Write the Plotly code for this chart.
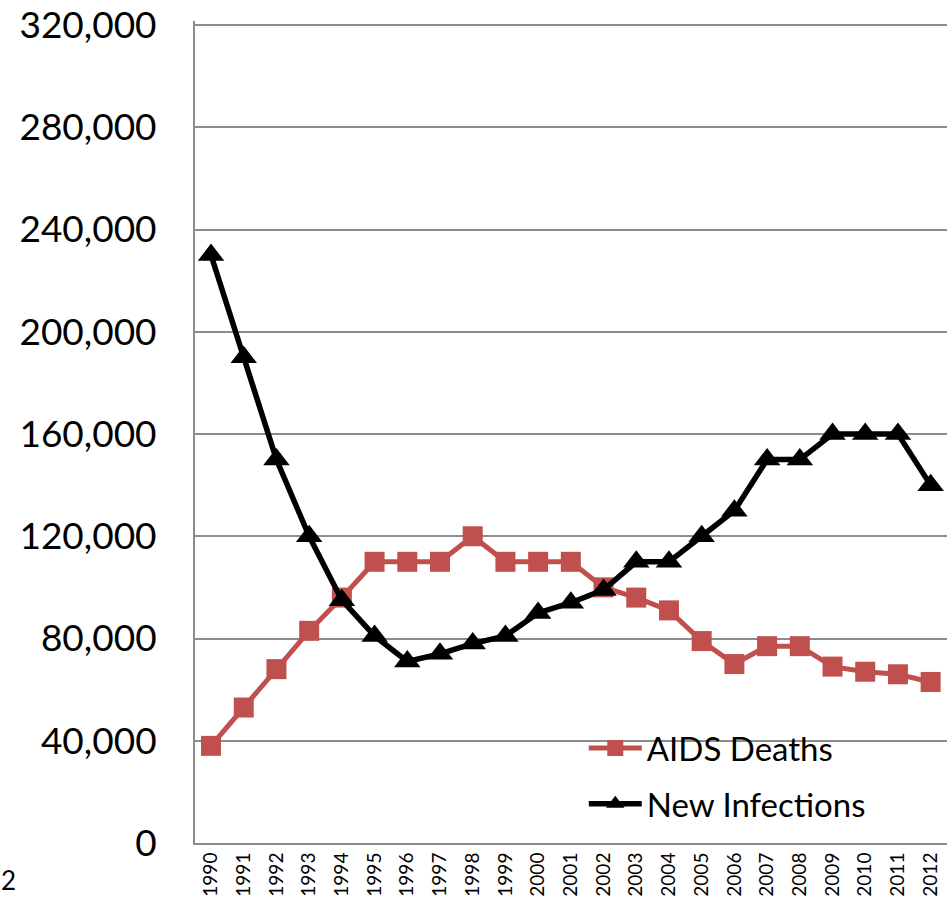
import plotly.graph_objects as go

years = [str(y) for y in range(1990, 2013)]
aids_deaths = [38000, 53000, 68000, 83000, 96000, 110000, 110000, 110000, 120000, 110000,
               110000, 110000, 100000, 96000, 91000, 79000, 70000, 77000, 77000, 69000,
               67000, 66000, 63000]
new_infections = [230000, 190000, 150000, 120000, 95000, 81000, 71000, 74000, 78000, 81000,
                  90000, 94000, 99000, 110000, 110000, 120000, 130000, 150000, 150000, 160000,
                  160000, 160000, 140000]
y_ticks = [0, 40000, 80000, 120000, 160000, 200000, 240000, 280000, 320000]
y_tick_text = ["0", "40,000", "80,000", "120,000", "160,000", "200,000", "240,000", "280,000", "320,000"]

FONT = "Lato"
RED = "#C0504D"

fig = go.Figure()
fig.add_trace(go.Scatter(
    x=years, y=aids_deaths, name="AIDS Deaths", mode="lines+markers",
    line=dict(color=RED, width=5), marker=dict(symbol="square", size=20, color=RED),
    legendgroup="a", cliponaxis=False))
fig.add_trace(go.Scatter(
    x=years, y=new_infections, name="New Infections", mode="lines+markers",
    line=dict(color="black", width=5.5), marker=dict(symbol="triangle-up", size=23, color="black"),
    legendgroup="b", cliponaxis=False))

plot_h = 907 - 64 - 21
fig.update_layout(
    width=948, height=907,
    margin=dict(l=195, r=1, t=21, b=64),
    paper_bgcolor="white", plot_bgcolor="white",
    font=dict(family=FONT, color="black"),
    showlegend=True,
    legend=dict(x=0.517, y=123 / plot_h, xanchor="left", yanchor="top",
                font=dict(size=33, family=FONT, color="black"),
                bgcolor="rgba(0,0,0,0)", itemwidth=53, tracegroupgap=10),
    xaxis=dict(type="category", range=[-0.49, 22.5], showgrid=False,
               showline=True, linecolor="#8C8C8C", linewidth=2,
               tickangle=-90, tickfont=dict(size=19, family=FONT, color="black"),
               ticks="", fixedrange=True),
    yaxis=dict(range=[0, 320000 * plot_h / 818], tickvals=y_ticks, ticktext=y_tick_text,
               showgrid=True, gridcolor="#8C8C8C", gridwidth=2,
               showline=True, linecolor="#8C8C8C", linewidth=2,
               zeroline=False, ticks="", ticklabelstandoff=29,
               tickfont=dict(size=37, family=FONT, color="black")),
    annotations=[dict(text="2", xref="paper", yref="paper",
                      x=-0.2606, y=-37 / plot_h, xanchor="left", yanchor="middle",
                      showarrow=False, font=dict(size=26, family=FONT, color="black"))],
)

fig.write_html("out.html", config={"displayModeBar": False},
               post_script="document.body.style.margin='0';document.body.style.overflow='hidden';")
